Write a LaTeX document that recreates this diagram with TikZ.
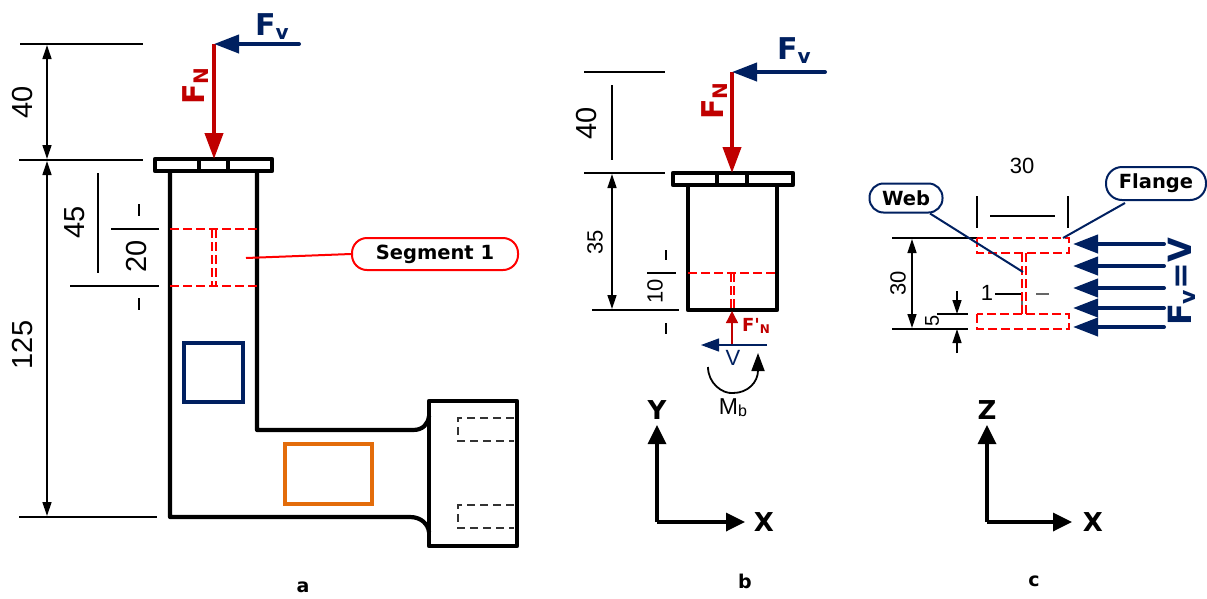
\documentclass[tikz,border=0pt]{standalone}
\usepackage{fontspec}
\setmainfont{Liberation Sans}
\newfontfamily\vfont{DejaVu Sans}
\usetikzlibrary{arrows.meta}
\definecolor{navy}{HTML}{002060}
\definecolor{dred}{HTML}{C00000}
\definecolor{bred}{HTML}{FF0000}
\definecolor{orng}{HTML}{E36C0A}
\newcommand{\fsz}[1]{\fontsize{#1}{#1}\selectfont}
\tikzset{
  x=1pt,y=-1pt,
  thickline/.style={draw=black,line width=4.2pt,line join=round,line cap=round},
  thin dim/.style={draw=black,line width=1.3pt},
  dimarrow/.style={draw=black,line width=1.3pt,{Triangle[length=14pt,width=9pt]}-{Triangle[length=14pt,width=9pt]}},
  singlearrow/.style={draw=black,line width=1.3pt,-{Triangle[length=14pt,width=9pt]}},
  redcut/.style={draw=bred,line width=1.3pt,dash pattern=on 9pt off 4pt},
  holecut/.style={draw=black!80,line width=1.3pt,dash pattern=on 8pt off 5pt},
  fnarrow/.style={draw=dred,line width=4pt,-{Triangle[length=26pt,width=18pt]}},
  fvarrow/.style={draw=navy,line width=4pt,line cap=round,-{Triangle[length=25pt,width=18pt]}},
  axisarrow/.style={draw=black,line width=3.4pt,-{Triangle[length=19pt,width=18pt]}},
  dimtext/.style={font=\fsz{29},inner sep=0pt},
  dimsmall/.style={font=\fsz{22},inner sep=0pt},
  fvlabel/.style={text=navy,inner sep=0pt,font=\vfont\bfseries\fsz{30}},
  fnlabel/.style={text=dred,inner sep=0pt,font=\vfont\bfseries\fsz{30}},
  axislabel/.style={inner sep=0pt,font=\vfont\bfseries\fsz{26}},
  caption/.style={inner sep=0pt,font=\vfont\bfseries\fsz{19}},
  callout/.style={draw=navy,line width=2pt,rounded corners=14pt,fill=white,inner sep=0pt,font=\vfont\bfseries\fsz{19.5}},
  leader/.style={draw=navy,line width=2pt},
}
\begin{document}
\begin{tikzpicture}
\useasboundingbox (0,0) rectangle (1207,598);

%%% ---- a ----
\draw[thin dim] (20,44) -- (143,44);
\draw[thin dim] (19,160) -- (143,160);
\draw[thin dim] (19,517) -- (157,517);
\draw[dimarrow] (47,45) -- (47,159);
\draw[dimarrow] (47,161) -- (47,516);
\node[dimtext,rotate=90] (a40) at (23,102) {40};
\node[dimtext,rotate=90] (a125) at (23,345) {125};
\node[dimtext,rotate=90] (a45) at (75,222) {45};
\node[dimtext,rotate=90] (a20) at (137,256) {20};
\draw[thin dim] (98,173) -- (98,273);
\draw[thin dim] (111,229) -- (159,229);
\draw[thin dim] (70,286) -- (159,286);
\draw[thin dim] (139,204) -- (139,216);
\draw[thin dim] (139,298) -- (139,310);
% body
\draw[thickline] (155,159) rectangle (272,171);
\draw[thickline,line width=3.4pt] (199,159) -- (199,171) (228,159) -- (228,171);
\draw[thickline] (170,172) -- (170,517) -- (410,517) .. controls (421,517) and (428,524) .. (429,532);
\draw[thickline] (257,172) -- (257,430) -- (413,430) .. controls (423,430) and (428,424) .. (429,416);
\draw[thickline] (429,401) rectangle (517,546);
\draw[holecut] (514,418) -- (458,418) -- (458,441) -- (514,441);
\draw[holecut] (514,505) -- (458,505) -- (458,528) -- (514,528);
\draw[draw=navy,line width=3.8pt] (184,343) rectangle (243,402);
\draw[draw=orng,line width=3.8pt] (285,444) rectangle (372,504);
% section
\draw[redcut] (170,229) -- (257,229);
\draw[redcut] (170,286) -- (257,286);
\draw[redcut] (212,229) -- (212,286);
\draw[redcut] (216,229) -- (216,286);
\node[draw=bred,line width=2pt,rounded corners=15pt,fill=white,minimum width=166pt,minimum height=32pt,inner sep=0pt,font=\vfont\bfseries\fsz{19.5}] (seg) at (435,254) {Segment 1};
\coordinate (segEnd) at (246,258);
\draw[draw=bred,line width=2pt] (seg.west) -- (segEnd);
% forces
\coordinate (aTop) at (214,44);
\coordinate (aPlate) at (214,159);
\coordinate (aFvS) at (299,44);
\draw[fnarrow] (aTop) -- (aPlate);
\draw[fvarrow] (aFvS) -- (aTop);
\node[fvlabel,anchor=base west] (aFv) at (255,35) {F\raisebox{-4pt}{\fsz{20}v}};
\node[fnlabel,rotate=90,anchor=base west] (aFn) at (204,105) {F\raisebox{-4pt}{\fsz{20}N}};
\node[caption] (capa) at (303,587) {a};

%%% ---- b ----
\draw[thin dim] (584,72) -- (665,72);
\draw[thin dim] (584,173) -- (665,173);
\draw[thin dim] (592,310) -- (679,310);
\draw[thin dim] (612,85) -- (612,160);
\draw[dimarrow] (612,174) -- (612,309);
\node[dimtext,rotate=90] (b40) at (587,123) {40};
\node[dimsmall,rotate=90] (b35) at (595,242) {35};
\node[dimsmall,rotate=90] (b10) at (655,291) {10};
\draw[thin dim] (647,273) -- (676,273);
\draw[thin dim] (666,250) -- (666,260);
\draw[thin dim] (666,323) -- (666,334);
\draw[thickline] (673,173) rectangle (793,185);
\draw[thickline,line width=3.4pt] (717,173) -- (717,185) (747,173) -- (747,185);
\draw[thickline] (688,186) -- (688,310) -- (777,310) -- (777,186);
\draw[redcut] (688,273) -- (777,273);
\draw[redcut] (731,273) -- (731,310);
\draw[redcut] (734,273) -- (734,310);
\coordinate (bTop) at (732,72);
\coordinate (bPlate) at (732,173);
\coordinate (bFvS) at (825,72);
\draw[fnarrow] (bTop) -- (bPlate);
\draw[fvarrow] (bFvS) -- (bTop);
\node[fvlabel,anchor=base west] (bFv) at (777,59) {F\raisebox{-4pt}{\fsz{20}v}};
\node[fnlabel,rotate=90,anchor=base west] (bFn) at (723,120) {F\raisebox{-4pt}{\fsz{20}N}};
\coordinate (bRa) at (732,345);
\coordinate (bRb) at (732,311);
\draw[draw=dred,line width=1.4pt,-{Triangle[length=12pt,width=12pt]}] (bRa) -- (bRb);
\node[text=dred,inner sep=0pt,font=\vfont\bfseries\fsz{18}] (bFpn) at (756,326) {F'\raisebox{-2pt}{\fsz{12}N}};
\coordinate (bVa) at (767,345);
\coordinate (bVb) at (701,345);
\draw[draw=navy,line width=1.2pt,-{Triangle[length=18pt,width=13pt]}] (bVa) -- (bVb);
\node[text=navy,inner sep=0pt,font=\fsz{22}] (bV) at (733,358) {V};
\coordinate (bMa) at (708,367);
\coordinate (bMb) at (758,353);
\draw[draw=black,line width=1.8pt,-{Triangle[length=18pt,width=13pt]}] (bMa) .. controls (708,383) and (722,394) .. (733,393) .. controls (748,393) and (758,382) .. (758,353);
\node[inner sep=0pt,font=\fsz{23}] (bMlab) at (733,408) {M\raisebox{-2pt}{\fsz{16}b}};
\node[caption] (capb) at (745,581) {b};

% axes b
\coordinate (oB) at (657,522);
\coordinate (yB) at (657,425);
\coordinate (xB) at (745,522);
\draw[axisarrow] (oB) -- (yB);
\draw[axisarrow] (oB) -- (xB);
\node[axislabel] (labY) at (657,410) {Y};
\node[axislabel] (labXb) at (764,522) {X};

%%% ---- c ----
\node[dimsmall] (c30t) at (1022,166) {30};
\draw[thin dim] (977,196) -- (977,228);
\draw[thin dim] (1068,196) -- (1068,228);
\draw[thin dim] (990,216) -- (1055,216);
\draw[thin dim] (892,238) -- (977,238);
\draw[thin dim] (892,329) -- (968,329);
\draw[thin dim] (937,314) -- (968,314);
\draw[dimarrow] (912,239) -- (912,328);
\node[dimsmall,rotate=90] (c30) at (898,283) {30};
\node[dimsmall,font=\fsz{20},rotate=90] (c5) at (932,321) {5};
\draw[singlearrow] (957,291) -- (957,314);
\draw[singlearrow] (957,353) -- (957,329);
\node[dimsmall] (c1) at (987,293) {1};
\draw[thin dim] (995,294) -- (1023,294);
\draw[thin dim,black!60] (1036,294) -- (1049,294);
\draw[thin dim,black!60] (1022,294) -- (1022,314);
\draw[redcut] (977,238) rectangle (1069,253);
\draw[redcut] (977,314) rectangle (1069,329);
\draw[redcut] (1022,253) -- (1022,314);
\draw[redcut] (1026,253) -- (1026,314);
\node[callout,minimum width=73pt,minimum height=29pt] (web) at (906,198) {Web};
\node[callout,rounded corners=16pt,minimum width=100pt,minimum height=33pt] (flange) at (1156,183.5) {Flange};
\coordinate (webEnd) at (1023,272);
\coordinate (flEnd) at (1063,238);
\draw[leader] (web.south) ++(24,0) coordinate (webS) (webS) -- (webEnd);
\draw[leader] (flange.south west) ++(20,2) coordinate (flS) (flS) -- (flEnd);
\foreach \y/\n in {244/a,266/b,288/c,308/d,327/e}{
  \coordinate (vS\n) at (1164,\y);
  \coordinate (vE\n) at (1073,\y);
  \draw[fvarrow] (vS\n) -- (vE\n);
}
\node[text=navy,rotate=90,inner sep=0pt,font=\vfont\bfseries\fsz{32}] (cFv) at (1182,282) {F\raisebox{-4pt}{\fsz{22}v}=V};
\node[caption] (capc) at (1034,581) {c};

% axes c
\coordinate (oC) at (987,522);
\coordinate (zC) at (987,425);
\coordinate (xC) at (1072,522);
\draw[axisarrow] (oC) -- (zC);
\draw[axisarrow] (oC) -- (xC);
\node[axislabel] (labZ) at (987,410) {Z};
\node[axislabel] (labXc) at (1093,522) {X};
\end{tikzpicture}
\end{document}
